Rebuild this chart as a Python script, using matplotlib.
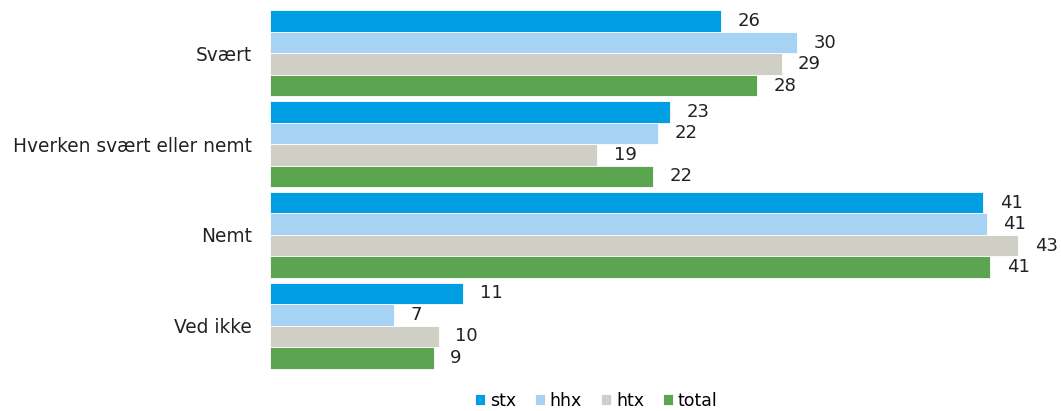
import matplotlib
matplotlib.use("Agg")
import matplotlib.pyplot as plt
import numpy as np

categories = ["Svært", "Hverken svært eller nemt", "Nemt", "Ved ikke"]
series = ["stx", "hhx", "htx", "total"]
stx = [25.9, 23.0, 41.0, 11.1]
hhx = [30.3, 22.3, 41.2, 7.1]
htx = [29.4, 18.8, 43.0, 9.7]
total = [28.0, 22.0, 41.4, 9.4]
colors = ["#009FE3", "#A6D3F4", "#CFCFC6", "#5BA550"]

plt.rcParams["font.family"] = ["DejaVu Sans"]

fig = plt.figure(figsize=(10.61, 4.11), dpi=100)
ax = fig.add_axes([270 / 1061, 1 - 371 / 411, 783 / 1061, 363 / 411])

y = np.arange(len(categories))
h = 0.237
for i, (name, vals) in enumerate(zip(series, [stx, hhx, htx, total])):
    pos = y + (i - 1.5) * h
    bars = ax.barh(pos, vals, height=h, color=colors[i], label=name,
                   edgecolor="white", linewidth=0.6)
    for b, v in zip(bars, vals):
        ax.text(v + 0.95, b.get_y() + h / 2, f"{v:.0f}", va="center", ha="left",
                fontsize=13, color="#222222")

ax.set_xlim(0, 45)
ax.set_ylim(3.5, -0.5)
ax.set_yticks(y)
ax.set_yticklabels(categories, fontsize=13.4, color="#222222")
ax.tick_params(axis="y", length=0, pad=13)
ax.set_xticks([])
for s in ax.spines.values():
    s.set_visible(False)

fig.legend(loc="lower center", bbox_to_anchor=(0.562, -0.035), ncol=4, frameon=False,
           fontsize=12.5, handlelength=0.55, handleheight=0.55, handletextpad=0.3,
           columnspacing=1.1)

fig.savefig("out.png", dpi=100)
